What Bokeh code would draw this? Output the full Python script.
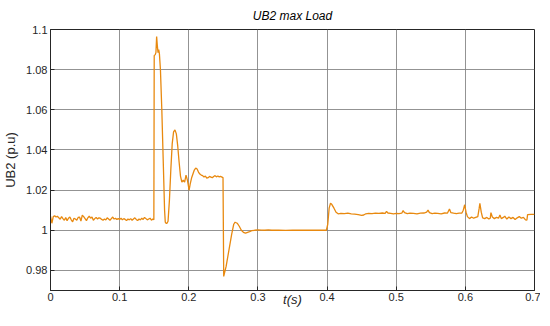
from bokeh.plotting import figure
from bokeh.models import (FixedTicker, CustomJSTickFormatter, Range1d, ColumnDataSource,
                          LinearAxis)
from bokeh.embed import file_html
from bokeh.resources import INLINE

# ---- data ----
t_pre = [0.000, 0.002, 0.004, 0.006, 0.008, 0.010, 0.012, 0.014, 0.016, 0.018,
         0.020, 0.022, 0.024, 0.026, 0.028, 0.030, 0.032, 0.034, 0.036, 0.038,
         0.040, 0.042, 0.044, 0.046, 0.048, 0.050, 0.052, 0.054, 0.056, 0.058,
         0.060, 0.062, 0.064, 0.066, 0.068, 0.070, 0.072, 0.074, 0.076, 0.078,
         0.080, 0.082, 0.084, 0.086, 0.088, 0.090, 0.092, 0.094, 0.096, 0.098,
         0.100, 0.102, 0.104, 0.106, 0.108, 0.110, 0.112, 0.114, 0.116, 0.118,
         0.120, 0.122, 0.124, 0.126, 0.128, 0.130, 0.132, 0.134, 0.136, 0.138,
         0.140, 0.142, 0.144, 0.146, 0.148, 0.1495]
v_pre = [1.0070, 1.0035, 1.0068, 1.0072, 1.0066, 1.0070, 1.0062, 1.0055, 1.0068, 1.0058,
         1.0050, 1.0063, 1.0048, 1.0060, 1.0066, 1.0052, 1.0042, 1.0060, 1.0056, 1.0050,
         1.0064, 1.0066, 1.0046, 1.0075, 1.0068, 1.0058, 1.0048, 1.0062, 1.0070, 1.0060,
         1.0066, 1.0050, 1.0058, 1.0064, 1.0056, 1.0062, 1.0060, 1.0054, 1.0050, 1.0056,
         1.0052, 1.0062, 1.0056, 1.0050, 1.0058, 1.0066, 1.0056, 1.0060, 1.0054, 1.0058,
         1.0054, 1.0060, 1.0052, 1.0058, 1.0054, 1.0048, 1.0056, 1.0052, 1.0058, 1.0050,
         1.0056, 1.0062, 1.0054, 1.0048, 1.0056, 1.0052, 1.0060, 1.0054, 1.0064, 1.0058,
         1.0052, 1.0056, 1.0060, 1.0050, 1.0056, 1.0052]

t_load = [0.150, 0.1515, 0.1525, 0.1535, 0.1545, 0.1555, 0.1565, 0.1575, 0.159, 0.161,
          0.163, 0.165, 0.166, 0.167, 0.1685, 0.170, 0.172, 0.174, 0.176, 0.178,
          0.180, 0.182, 0.184, 0.186, 0.188, 0.190, 0.192, 0.194, 0.196, 0.198,
          0.2005, 0.202, 0.204, 0.206, 0.208, 0.210, 0.212, 0.214, 0.216, 0.218,
          0.220, 0.222, 0.224, 0.226, 0.228, 0.230, 0.232, 0.234, 0.236, 0.238,
          0.240, 0.242, 0.244, 0.246, 0.248, 0.2495]
v_load = [1.0870, 1.0875, 1.0885, 1.0965, 1.0920, 1.0885, 1.0900, 1.0880, 1.0800, 1.0600,
          1.0350, 1.0100, 1.0040, 1.0035, 1.0035, 1.0045, 1.0150, 1.0300, 1.0430, 1.0490,
          1.0500, 1.0480, 1.0420, 1.0340, 1.0270, 1.0240, 1.0250, 1.0240, 1.0275, 1.0250,
          1.0200, 1.0230, 1.0260, 1.0280, 1.0300, 1.0310, 1.0305, 1.0290, 1.0280, 1.0275,
          1.0272, 1.0265, 1.0270, 1.0260, 1.0262, 1.0268, 1.0265, 1.0262, 1.0268, 1.0272,
          1.0266, 1.0270, 1.0266, 1.0268, 1.0265, 1.0262]

t_mid = [0.2505, 0.254, 0.258, 0.262, 0.265, 0.267, 0.270, 0.273, 0.276, 0.279,
         0.282, 0.285, 0.288, 0.291, 0.295, 0.300, 0.305, 0.310, 0.315, 0.320,
         0.330, 0.340, 0.350, 0.360, 0.370, 0.380, 0.390, 0.399]
v_mid = [0.9770, 0.9820, 0.9900, 0.9980, 1.0030, 1.0040, 1.0035, 1.0020, 1.0000, 0.9990,
         0.9986, 0.9990, 0.9993, 0.9998, 1.0000, 1.0002, 1.0001, 1.0000, 1.0002, 1.0000,
         1.0001, 0.9999, 1.0000, 1.0001, 1.0000, 1.0000, 1.0001, 1.0000]

t_post = [0.401, 0.403, 0.405, 0.407, 0.410, 0.413, 0.416, 0.420, 0.425, 0.430,
          0.435, 0.440, 0.445, 0.450, 0.453, 0.456, 0.460, 0.465, 0.470, 0.475,
          0.480, 0.484, 0.486, 0.488, 0.492, 0.496, 0.500, 0.504, 0.508, 0.510,
          0.512, 0.516, 0.520, 0.525, 0.530, 0.535, 0.540, 0.544, 0.546, 0.548,
          0.552, 0.556, 0.560, 0.565, 0.570, 0.574, 0.577, 0.579, 0.583, 0.587,
          0.591, 0.595, 0.597, 0.599, 0.601, 0.603, 0.606, 0.609, 0.612, 0.615,
          0.618, 0.620, 0.621, 0.623, 0.625, 0.628, 0.631, 0.634, 0.636, 0.637,
          0.639, 0.642, 0.645, 0.648, 0.650, 0.652, 0.655, 0.657, 0.660, 0.663,
          0.666, 0.669, 0.672, 0.675, 0.678, 0.681, 0.684, 0.687, 0.689, 0.690,
          0.695, 0.700]
v_post = [1.0030, 1.0110, 1.0135, 1.0128, 1.0110, 1.0090, 1.0082, 1.0084, 1.0083, 1.0085,
          1.0082, 1.0080, 1.0078, 1.0074, 1.0076, 1.0082, 1.0084, 1.0083, 1.0085, 1.0084,
          1.0086, 1.0084, 1.0094, 1.0086, 1.0084, 1.0082, 1.0084, 1.0083, 1.0085, 1.0098,
          1.0088, 1.0083, 1.0085, 1.0084, 1.0082, 1.0085, 1.0086, 1.0090, 1.0100, 1.0088,
          1.0083, 1.0085, 1.0084, 1.0082, 1.0086, 1.0085, 1.0106, 1.0088, 1.0085, 1.0083,
          1.0085, 1.0086, 1.0100, 1.0127, 1.0090, 1.0068, 1.0058, 1.0066, 1.0060, 1.0064,
          1.0068, 1.0110, 1.0134, 1.0090, 1.0062, 1.0058, 1.0064, 1.0056, 1.0060, 1.0088,
          1.0066, 1.0058, 1.0064, 1.0060, 1.0076, 1.0058, 1.0064, 1.0070, 1.0056, 1.0066,
          1.0058, 1.0064, 1.0054, 1.0062, 1.0068, 1.0060, 1.0064, 1.0052, 1.0050, 1.0078,
          1.0079, 1.0079]

x_ticks = [0, 0.1, 0.2, 0.3, 0.4, 0.5, 0.6, 0.7]
y_ticks = [0.98, 1.0, 1.02, 1.04, 1.06, 1.08, 1.1]
x_title = "t(s)"
x_title_pos = [0.35]

t_all = t_pre + t_load + t_mid + t_post
v_all = v_pre + v_load + v_mid + v_post
src = ColumnDataSource(data=dict(t=t_all, v=v_all))

FONT = "Liberation Sans"
DARK = "#262626"

p = figure(frame_width=484, height=310, output_backend="svg", toolbar_location=None,
           x_range=Range1d(0, 0.7), y_range=Range1d(0.97, 1.1),
           min_border_left=44, min_border_right=6, min_border_top=20,
           min_border_bottom=20, background_fill_color="white",
           border_fill_color="white")

p.line("t", "v", source=src, line_color="#E8890F", line_width=1.3)

p.title.text = "UB2 max Load"
p.title.align = "center"
p.title.text_font = FONT
p.title.text_font_style = "italic"
p.title.text_font_size = "12px"
p.title.text_color = "black"
p.title.standoff = 13

fmt = CustomJSTickFormatter(code="return String(Math.round(tick*100)/100);")

p.xaxis.ticker = FixedTicker(ticks=x_ticks)
p.yaxis.ticker = FixedTicker(ticks=y_ticks)
for ax in (p.xaxis[0], p.yaxis[0]):
    ax.formatter = fmt
    ax.major_label_text_font = FONT
    ax.major_label_text_font_size = "11px"
    ax.major_label_text_color = DARK
    ax.axis_line_color = DARK
    ax.major_tick_line_color = DARK
    ax.major_tick_in = 4
    ax.major_tick_out = 0
    ax.minor_tick_line_color = None
    ax.axis_label_text_font = FONT
    ax.axis_label_text_font_size = "13px"
    ax.axis_label_text_color = DARK
    ax.major_label_standoff = 3

p.xaxis.major_label_standoff = 2

p.yaxis.axis_label = "UB2 (p.u)"
p.yaxis.axis_label_text_font_style = "normal"
p.yaxis.axis_label_standoff = 5

# x-axis title as a label-only second axis tucked under the tick labels
xt = LinearAxis(ticker=FixedTicker(ticks=x_title_pos),
                formatter=CustomJSTickFormatter(code="return '%s';" % x_title),
                axis_line_color=None, major_tick_line_color=None,
                minor_tick_line_color=None, major_label_standoff=-18,
                major_label_text_font=FONT, major_label_text_font_size="13px",
                major_label_text_font_style="italic", major_label_text_color=DARK)
p.add_layout(xt, "below")

p.grid.grid_line_color = "#808080"
p.grid.grid_line_width = 1
p.grid.grid_line_alpha = 0.85
p.outline_line_color = DARK
p.outline_line_alpha = 1

open("out.html", "w").write(file_html(p, INLINE))
